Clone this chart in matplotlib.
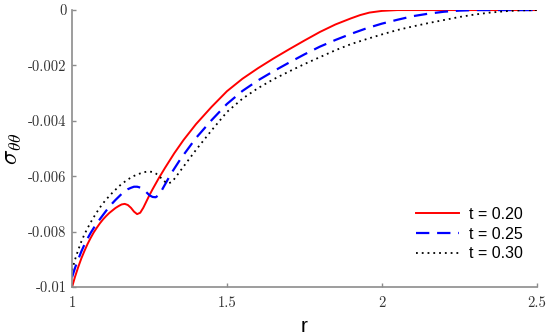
import matplotlib
matplotlib.use("Agg")
import matplotlib.pyplot as plt
from matplotlib.ticker import FixedLocator, FixedFormatter

plt.rcParams['mathtext.fontset'] = 'cm'
plt.rcParams['axes.unicode_minus'] = False
plt.rcParams['font.family'] = ['cmr10', 'DejaVu Serif']

# ---- data ----
r_020 = [1.00, 1.01, 1.02, 1.03, 1.04, 1.05, 1.06, 1.07, 1.08, 1.09, 1.10, 1.11, 1.12, 1.13,
         1.14, 1.15, 1.16, 1.17, 1.18, 1.19, 1.20, 1.21, 1.22, 1.23, 1.24, 1.25, 1.26, 1.27,
         1.28, 1.30, 1.33, 1.36, 1.40, 1.45, 1.50, 1.55, 1.60, 1.65, 1.70, 1.75, 1.80, 1.85,
         1.90, 1.93, 1.96, 2.00, 2.05, 2.50]
s_020 = [-0.01000, -0.00962, -0.00928, -0.00897, -0.00870, -0.00845, -0.00823, -0.00803,
         -0.00786, -0.00770, -0.00756, -0.00744, -0.00733, -0.00724, -0.00715, -0.00708,
         -0.00702, -0.00700, -0.00704, -0.00714, -0.00728, -0.00737, -0.00732, -0.00714,
         -0.00691, -0.00668, -0.00647, -0.00627, -0.00607, -0.00570, -0.00517, -0.00469,
         -0.00412, -0.00350, -0.00293, -0.00248, -0.00210, -0.00175, -0.00142, -0.00110,
         -0.00079, -0.00052, -0.00030, -0.00018, -0.00009, -0.00003, 0.0, 0.0]

r_025 = [1.00, 1.01, 1.02, 1.03, 1.04, 1.05, 1.06, 1.07, 1.08, 1.09, 1.10, 1.11, 1.12, 1.13,
         1.14, 1.15, 1.16, 1.17, 1.18, 1.19, 1.20, 1.21, 1.22, 1.23, 1.24, 1.25, 1.26, 1.27,
         1.28, 1.29, 1.30, 1.32, 1.35, 1.40, 1.45, 1.50, 1.55, 1.60, 1.65, 1.70, 1.75, 1.80,
         1.85, 1.90, 1.95, 2.00, 2.05, 2.10, 2.15, 2.20, 2.25, 2.30, 2.50]
s_025 = [-0.00965, -0.00930, -0.00900, -0.00872, -0.00847, -0.00825, -0.00805, -0.00787,
         -0.00770, -0.00755, -0.00740, -0.00725, -0.00711, -0.00698, -0.00686, -0.00675,
         -0.00664, -0.00655, -0.00647, -0.00642, -0.00638, -0.00638, -0.00641, -0.00647,
         -0.00658, -0.00669, -0.00675, -0.00676, -0.00668, -0.00650, -0.00630, -0.00590,
         -0.00538, -0.00462, -0.00398, -0.00339, -0.00292, -0.00254, -0.00221, -0.00190,
         -0.00160, -0.00132, -0.00108, -0.00086, -0.00066, -0.00049, -0.00035, -0.00022,
         -0.00013, -0.00006, -0.00002, 0.0, 0.0]

r_030 = [1.00, 1.01, 1.02, 1.03, 1.04, 1.05, 1.06, 1.07, 1.08, 1.09, 1.10, 1.11, 1.12, 1.13,
         1.14, 1.15, 1.16, 1.17, 1.18, 1.19, 1.20, 1.21, 1.22, 1.23, 1.24, 1.25, 1.26, 1.27,
         1.28, 1.29, 1.30, 1.31, 1.32, 1.33, 1.35, 1.40, 1.45, 1.50, 1.55, 1.60, 1.65, 1.70,
         1.75, 1.80, 1.85, 1.90, 1.95, 2.00, 2.05, 2.10, 2.15, 2.20, 2.25, 2.30, 2.35, 2.40,
         2.45, 2.50]
s_030 = [-0.00940, -0.00900, -0.00866, -0.00836, -0.00810, -0.00788, -0.00767, -0.00748,
         -0.00730, -0.00713, -0.00698, -0.00684, -0.00672, -0.00660, -0.00649, -0.00638,
         -0.00628, -0.00620, -0.00612, -0.00605, -0.00599, -0.00594, -0.00590, -0.00586,
         -0.00584, -0.00583, -0.00585, -0.00590, -0.00598, -0.00610, -0.00620, -0.00626,
         -0.00622, -0.00610, -0.00580, -0.00505, -0.00435, -0.00368, -0.00320, -0.00282,
         -0.00250, -0.00222, -0.00195, -0.00170, -0.00145, -0.00123, -0.00105, -0.00088,
         -0.00072, -0.00059, -0.00047, -0.00036, -0.00025, -0.00016, -0.00009, -0.00004,
         -0.00001, 0.0]

labels = ["t = 0.20", "t = 0.25", "t = 0.30"]
x_ticks = [1.0, 1.5, 2.0, 2.5]
x_ticklabels = ["1", "1.5", "2", "2.5"]
y_ticks = [0.0, -0.002, -0.004, -0.006, -0.008, -0.01]
y_ticklabels = ["0", "-0.002", "-0.004", "-0.006", "-0.008", "-0.01"]

fig = plt.figure(figsize=(5.5, 3.36), dpi=100)
ax = fig.add_axes([0.131, 0.146, 0.845, 0.824])

ax.plot(r_020, s_020, color='#ff0000', lw=1.4, ls='-', label=labels[0])
ax.plot(r_025, s_025, color='#0000ff', lw=1.6, ls=(0, (6, 3.5)), label=labels[1])
ax.plot(r_030, s_030, color='#000000', lw=1.3, ls=(0, (1, 2.2)), label=labels[2])

ax.set_xlim(1.0, 2.5)
ax.set_ylim(-0.01, 0.0)
ax.xaxis.set_major_locator(FixedLocator(x_ticks))
ax.xaxis.set_major_formatter(FixedFormatter(x_ticklabels))
ax.yaxis.set_major_locator(FixedLocator(y_ticks))
ax.yaxis.set_major_formatter(FixedFormatter(y_ticklabels))

for sp in ['top', 'right']:
    ax.spines[sp].set_visible(False)
for sp in ['left', 'bottom']:
    ax.spines[sp].set_color('#8c8c8c')
    ax.spines[sp].set_linewidth(1.2)
ax.tick_params(direction='in', length=3, width=1, color='#8c8c8c',
               labelsize=10.5, labelcolor='#333333')
ax.tick_params(axis='x', pad=7)
ax.tick_params(axis='y', pad=4)

ax.set_xlabel('r', fontsize=15, family=['Liberation Sans'], va='baseline')
ax.xaxis.set_label_coords(0.5, -0.163)
ax.set_ylabel(r'$\sigma_{\theta\theta}$', fontsize=18, va='center', ha='center')
ax.yaxis.set_label_coords(-0.128, 0.5)

leg = ax.legend(loc='lower right', frameon=False, prop={'family': ['Liberation Sans'], 'size': 11.5},
                handlelength=2.7, handletextpad=0.6, labelspacing=0.3,
                bbox_to_anchor=(1.0, 0.04))

fig.savefig('out.png', dpi=100)
